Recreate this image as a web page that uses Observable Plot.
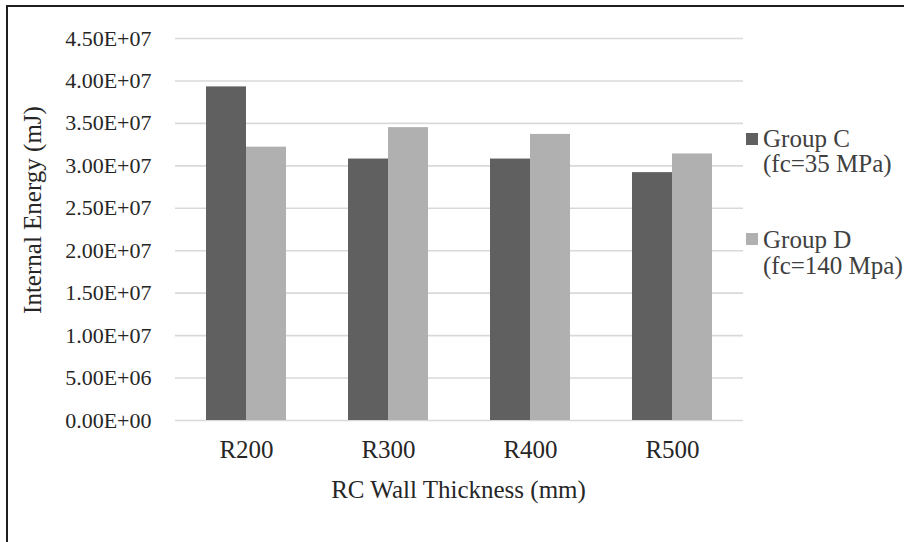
<!DOCTYPE html>
<html><head><meta charset="utf-8">
<script src="https://cdn.jsdelivr.net/npm/d3@7"></script>
<script src="https://cdn.jsdelivr.net/npm/@observablehq/plot@0.6"></script>
<style>
html,body{margin:0;padding:0;background:#fff;}
#wrap{position:relative;width:904px;height:542px;overflow:hidden;font-family:'Liberation Serif';}
#frame{position:absolute;left:6px;top:5px;right:-10px;bottom:-10px;border-left:2px solid #1e1e1e;border-top:2px solid #1e1e1e;pointer-events:none;}
svg{display:block;}
.lbl{position:absolute;font-family:'Liberation Serif';font-size:25px;line-height:25px;white-space:nowrap;color:#262626;}
.sw{position:absolute;width:12px;height:12px;}
</style></head><body><div id="wrap"><div id="frame"></div></div>
<script>
const categories = ["R200", "R300", "R400", "R500"];
const seriesNames = ["Group C", "Group D"];
const seriesSub = ["(fc=35 MPa)", "(fc=140 Mpa)"];
const groupC = [3.93e7, 3.08e7, 3.08e7, 2.92e7];
const groupD = [3.22e7, 3.45e7, 3.37e7, 3.14e7];
const yTicks = [0, 5e6, 1e7, 1.5e7, 2e7, 2.5e7, 3e7, 3.5e7, 4e7, 4.5e7];
const colors = ["#606060", "#b0b0b0"];
const xTitle = "RC Wall Thickness (mm)";
const yTitle = "Internal Energy (mJ)";

const data = categories.flatMap((c, i) => [
  {cat: c, s: seriesNames[0], v: groupC[i]},
  {cat: c, s: seriesNames[1], v: groupD[i]}
]);

function fmt(d) {
  const [m, e] = d.toExponential(2).split("e");
  const sign = e[0] === "-" ? "-" : "+";
  return m + "E" + sign + String(Math.abs(+e)).padStart(2, "0");
}

const font = "Liberation Serif";
const chart = Plot.plot({
  width: 904, height: 542,
  marginLeft: 173, marginRight: 160, marginTop: 38, marginBottom: 122,
  style: {fontFamily: font, background: "transparent", color: "#262626"},
  fx: {domain: categories, padding: 0, label: null},
  x: {domain: seriesNames, paddingInner: 0, paddingOuter: 0.74, axis: null},
  y: {domain: [0, 4.5e7], label: null},
  color: {domain: seriesNames, range: colors},
  marks: [
    Plot.gridY({ticks: yTicks, stroke: "#d9d9d9", strokeOpacity: 1, strokeWidth: 1.6}),
    Plot.barY(data, {fx: "cat", x: "s", y: "v", fill: "s"}),
    Plot.axisY({ticks: yTicks, tickSize: 0, tickPadding: 24, tickFormat: fmt, fontSize: 22, fontFamily: font, fontVariant: "normal", label: null}),
    Plot.axisFx({anchor: "bottom", tickSize: 0, tickPadding: 20, fontSize: 25, fontFamily: font, label: null})
  ]
});

const wrap = document.getElementById("wrap");
wrap.prepend(chart);

function addLabel(text, css) {
  const d = document.createElement("div");
  d.className = "lbl";
  d.textContent = text;
  Object.assign(d.style, css);
  wrap.appendChild(d);
  return d;
}
// axis titles
addLabel(yTitle, {left: "31.5px", top: "210px", transform: "translate(-50%,-50%) rotate(-90deg)"});
addLabel(xTitle, {left: "458.5px", top: "488.5px", transform: "translate(-50%,-50%)"});

// legend
const legendSwatchTop = [133, 233];
const legendLineTop = [[126, 151], [227, 253]];
seriesNames.forEach((name, i) => {
  const sw = document.createElement("div");
  sw.className = "sw";
  Object.assign(sw.style, {left: "746px", top: legendSwatchTop[i] + "px", background: colors[i]});
  wrap.appendChild(sw);
  addLabel(name, {left: "763px", top: legendLineTop[i][0] + "px", color: "#404040"});
  addLabel(seriesSub[i], {left: "763px", top: legendLineTop[i][1] + "px", color: "#404040"});
});
</script>
</body></html>
